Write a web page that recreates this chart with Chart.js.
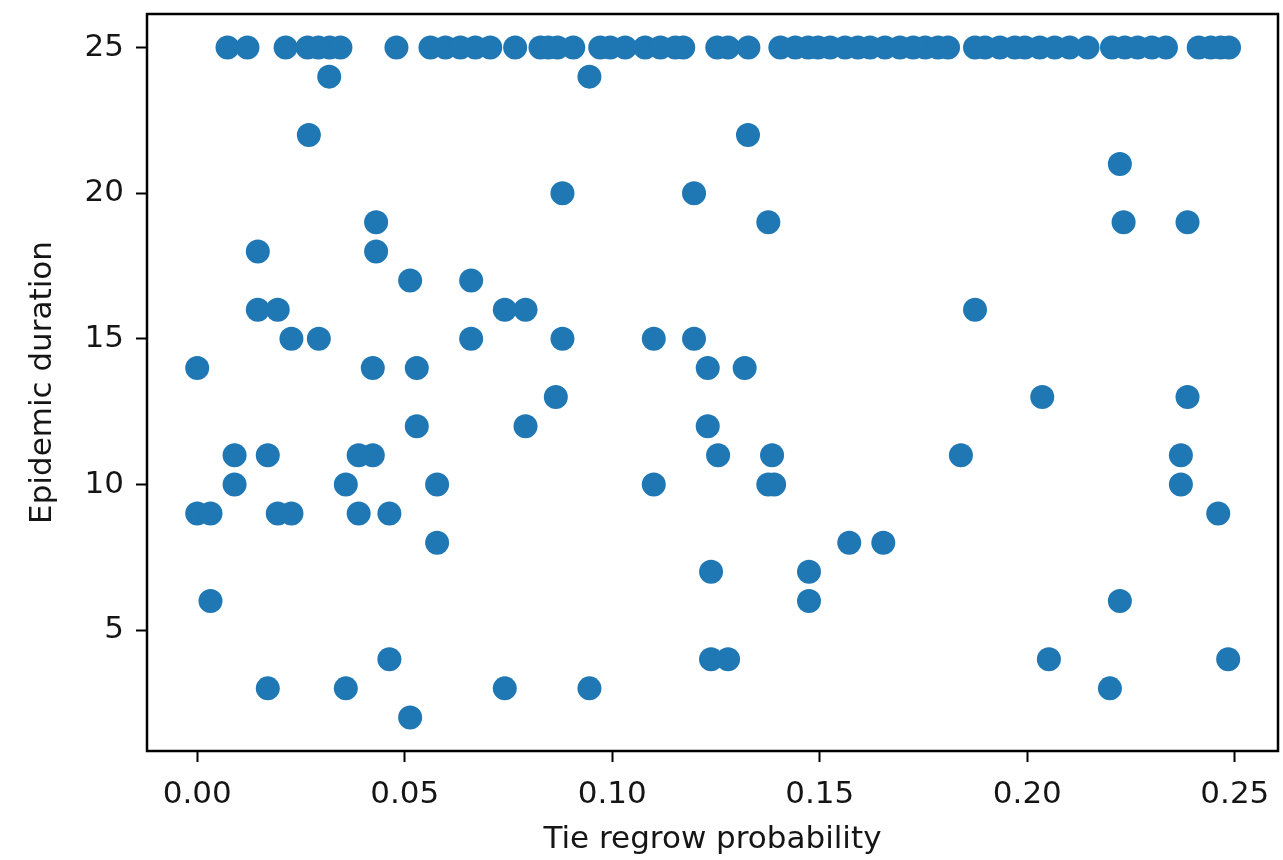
<!DOCTYPE html>
<html>
<head>
<meta charset="utf-8">
<title>Epidemic duration vs tie regrow probability</title>
<script src="https://cdn.jsdelivr.net/npm/chart.js@4.4.1/dist/chart.umd.min.js"></script>
<style>
  html, body { margin: 0; padding: 0; background: #ffffff; }
  #wrap { width: 1283px; height: 860px; }
</style>
</head>
<body>
<div id="wrap"><canvas id="chart" width="1283" height="860"></canvas></div>
<script>
// Tick positions for both axes
const xTickValues = [0.00, 0.05, 0.10, 0.15, 0.20, 0.25];
const yTickValues = [5, 10, 15, 20, 25];

// One entry per simulation run: tie regrow probability and the resulting epidemic duration
const tieRegrowProbability = [
  // runs that reached the 25-step cap
  0.0073, 0.0121, 0.0213, 0.0266, 0.0292, 0.0319, 0.0345, 0.0480, 0.0562, 0.0598,
  0.0634, 0.0670, 0.0706, 0.0766, 0.0827, 0.0846, 0.0868, 0.0906, 0.0971, 0.0995,
  0.1031, 0.1079, 0.1116, 0.1152, 0.1171, 0.1253, 0.1279, 0.1328, 0.1405, 0.1441,
  0.1472, 0.1496, 0.1525, 0.1561, 0.1592, 0.1621, 0.1657, 0.1693, 0.1725, 0.1754,
  0.1785, 0.1809, 0.1874, 0.1898, 0.1934, 0.1970, 0.1994, 0.2030, 0.2066, 0.2102,
  0.2145, 0.2204, 0.2235, 0.2266, 0.2300, 0.2334, 0.2413, 0.2442, 0.2466, 0.2486,
  // runs that ended earlier
  0.0318, 0.0945, 0.0269, 0.0431, 0.0431, 0.0146, 0.0513, 0.0660, 0.0146, 0.0194,
  0.0741, 0.0791, 0.0227, 0.0293, 0.0660, 0.0000, 0.0423, 0.0529, 0.0529, 0.0791,
  0.0090, 0.0170, 0.0389, 0.0423, 0.0090, 0.0358, 0.0578, 0.0000, 0.0032, 0.0194,
  0.0227, 0.0389, 0.0463, 0.0578, 0.0032, 0.0463, 0.0170, 0.0358, 0.0741, 0.0513,
  0.1327, 0.0880, 0.1197, 0.1376, 0.0880, 0.1100, 0.1197, 0.1230, 0.1319, 0.0864,
  0.1230, 0.1255, 0.1385, 0.1100, 0.1376, 0.1390, 0.1571, 0.1653, 0.1238, 0.1474,
  0.1474, 0.1238, 0.1279, 0.0945, 0.2223, 0.2232, 0.2386, 0.1874, 0.2036, 0.2386,
  0.1840, 0.2370, 0.2370, 0.2460, 0.2223, 0.2052, 0.2484, 0.2199
];

const epidemicDuration = [
  25, 25, 25, 25, 25, 25, 25, 25, 25, 25,
  25, 25, 25, 25, 25, 25, 25, 25, 25, 25,
  25, 25, 25, 25, 25, 25, 25, 25, 25, 25,
  25, 25, 25, 25, 25, 25, 25, 25, 25, 25,
  25, 25, 25, 25, 25, 25, 25, 25, 25, 25,
  25, 25, 25, 25, 25, 25, 25, 25, 25, 25,
  24, 24, 22, 19, 18, 18, 17, 17, 16, 16,
  16, 16, 15, 15, 15, 14, 14, 14, 12, 12,
  11, 11, 11, 11, 10, 10, 10, 9, 9, 9,
  9, 9, 9, 8, 6, 4, 3, 3, 3, 2,
  22, 20, 20, 19, 15, 15, 15, 14, 14, 13,
  12, 11, 11, 10, 10, 10, 8, 8, 7, 7,
  6, 4, 4, 3, 21, 19, 19, 16, 13, 13,
  11, 11, 10, 9, 6, 4, 4, 3
];

const points = tieRegrowProbability.map((x, i) => ({ x: x, y: epidemicDuration[i] }));

const FONT = { family: '"DejaVu Sans", sans-serif', size: 31 };
const INK = '#151515';

// Closed box around the plotting area (top and right sides included)
const frame = {
  id: 'frame',
  afterDatasetsDraw(chart) {
    const { ctx, chartArea: a } = chart;
    ctx.save();
    ctx.strokeStyle = '#000000';
    ctx.lineWidth = 2.5;
    ctx.strokeRect(a.left, a.top, a.right - a.left, a.bottom - a.top);
    ctx.restore();
  }
};

new Chart(document.getElementById('chart'), {
  type: 'scatter',
  data: {
    datasets: [{
      data: points,
      pointRadius: 12,
      pointHoverRadius: 12,
      pointBackgroundColor: '#1f77b4',
      pointBorderWidth: 0,
      pointBorderColor: '#1f77b4'
    }]
  },
  options: {
    responsive: false,
    animation: false,
    devicePixelRatio: 1,
    layout: { padding: { top: 14, right: 5, left: 0, bottom: 0 }, autoPadding: false },
    plugins: { legend: { display: false }, tooltip: { enabled: false } },
    scales: {
      x: {
        type: 'linear',
        position: 'bottom',
        min: -0.0121,
        max: 0.2604,
        afterFit: s => { s.height = 109; s.paddingLeft = 0; s.paddingRight = 0; },
        afterBuildTicks: s => { s.ticks = xTickValues.map(v => ({ value: v })); },
        ticks: {
          callback: v => Number(v).toFixed(2),
          font: FONT, color: INK, padding: 14,
          maxRotation: 0, autoSkip: false
        },
        grid: { drawOnChartArea: false, drawTicks: true, tickLength: 11, tickWidth: 2, tickColor: '#000000' },
        border: { display: false },
        title: {
          display: true, text: 'Tie regrow probability',
          font: FONT, color: INK, padding: { top: 0, bottom: 1 }
        }
      },
      y: {
        type: 'linear',
        position: 'left',
        min: 0.85,
        max: 26.15,
        afterFit: s => { s.width = 147; s.paddingTop = 0; s.paddingBottom = 0; },
        afterBuildTicks: s => { s.ticks = yTickValues.map(v => ({ value: v })); },
        ticks: {
          callback: v => String(v),
          font: FONT, color: INK, padding: 12, autoSkip: false
        },
        grid: { drawOnChartArea: false, drawTicks: true, tickLength: 11, tickWidth: 2, tickColor: '#000000' },
        border: { display: false },
        title: {
          display: true, text: 'Epidemic duration',
          font: FONT, color: INK, padding: { top: 24, bottom: 0 }
        }
      }
    }
  },
  plugins: [frame]
});
</script>
</body>
</html>
